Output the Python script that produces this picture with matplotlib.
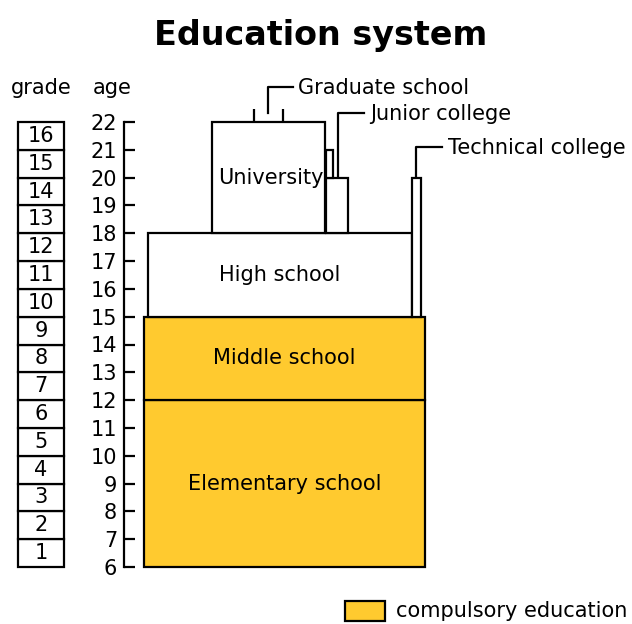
import matplotlib.pyplot as plt
from matplotlib.patches import Rectangle

# data: ages and grades
ages = list(range(6, 23))
grades = list(range(1, 17))
grade_start_age = [g + 5 for g in grades]

# schools (start age, end age)
schools = ["Elementary school", "Middle school", "High school", "University"]
school_start = [6, 12, 15, 18]
school_end = [12, 15, 18, 22]
compulsory = [True, True, False, False]

junior_start = [18, 20]
junior_end = [20, 21]
technical_start = 15
technical_end = 20
graduate_age = 22

# layout (horizontal extents in figure pixels)
school_x = [(144, 425), (144, 425), (148, 412), (212, 325)]
junior_x = [(326, 348), (326, 333)]
technical_x = (412, 421)
grade_x = (18, 64)
gold = "#FFCA2F"
lw = 1.6
fs = 15

fig = plt.figure(figsize=(6.32, 6.24), dpi=100)
ax = fig.add_axes([0, (624 - 567) / 624, 1, (567 - 122) / 624])
ax.set_xlim(0, 632)
ax.set_ylim(6, 22)

# age axis
for s in ["top", "right", "bottom"]:
    ax.spines[s].set_visible(False)
ax.spines["left"].set_position(("data", 124))
ax.spines["left"].set_linewidth(lw)
ax.set_yticks(ages)
ax.tick_params(axis="y", direction="in", length=8, width=lw, pad=5, labelsize=fs)
ax.set_xticks([])

# grade boxes
for g, a in zip(grades, grade_start_age):
    ax.add_patch(Rectangle((grade_x[0], a), grade_x[1] - grade_x[0], 1,
                           facecolor="white", edgecolor="black", lw=lw, clip_on=False))
    ax.text((grade_x[0] + grade_x[1]) / 2, a + 0.5, str(g), ha="center", va="center",
            fontsize=fs)

# schools
for name, s0, s1, c, (x0, x1) in zip(schools, school_start, school_end, compulsory, school_x):
    ax.add_patch(Rectangle((x0, s0), x1 - x0, s1 - s0, facecolor=gold if c else "white",
                           edgecolor="black", lw=lw, clip_on=False, zorder=2 if c else 3))
    tx = (x0 + x1) / 2
    if name == "University":
        tx = 271
    ax.text(tx, (s0 + s1) / 2, name, ha="center", va="center", fontsize=fs, zorder=5)

for s0, s1, (x0, x1) in zip(junior_start, junior_end, junior_x):
    ax.add_patch(Rectangle((x0, s0), x1 - x0, s1 - s0, facecolor="white",
                           edgecolor="black", lw=lw, clip_on=False, zorder=3))
ax.add_patch(Rectangle((technical_x[0], technical_start), technical_x[1] - technical_x[0],
                       technical_end - technical_start, facecolor="white",
                       edgecolor="black", lw=lw, clip_on=False, zorder=3))

# graduate school ticks and callouts
ax.vlines([254, 283], graduate_age, graduate_age + 0.47, color="black", lw=lw, clip_on=False)
ax.plot([268, 268, 293], [graduate_age + 0.32, graduate_age + 1.26, graduate_age + 1.26],
        color="black", lw=lw, clip_on=False)
ax.text(298, graduate_age + 1.22, "Graduate school", ha="left", va="center", fontsize=fs)

ax.plot([338, 338, 364], [junior_start[1], 22.32, 22.32], color="black", lw=lw, clip_on=False)
ax.text(370, 22.28, "Junior college", ha="left", va="center", fontsize=fs)

ax.plot([416, 416, 442], [technical_end, 21.1, 21.1], color="black", lw=lw, clip_on=False)
ax.text(448, 21.06, "Technical college", ha="left", va="center", fontsize=fs)

# headers
ax.text(41, 23.22, "grade", ha="center", va="center", fontsize=fs)
ax.text(112, 23.22, "age", ha="center", va="center", fontsize=fs)

# legend
ax.add_patch(Rectangle((345, 4.06), 40, 0.72, facecolor=gold, edgecolor="black",
                       lw=lw, clip_on=False))
ax.text(396, 4.42, "compulsory education", ha="left", va="center", fontsize=fs)

fig.text(0.507, 1 - 35 / 624, "Education system", ha="center", va="center",
         fontsize=24, fontweight="bold")

fig.savefig("out.png", dpi=100)
